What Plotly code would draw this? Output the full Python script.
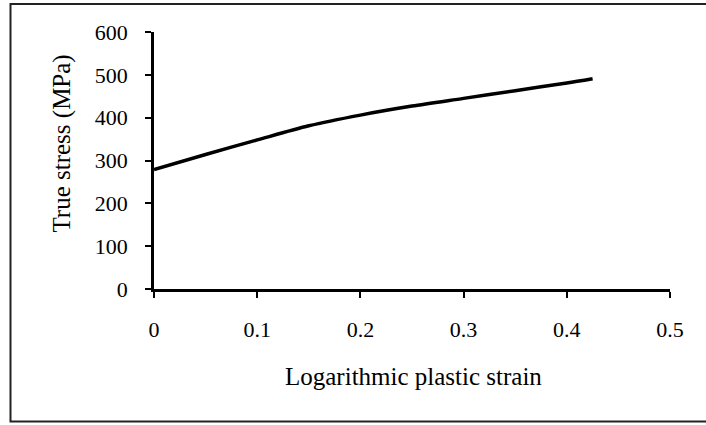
import plotly.graph_objects as go

# Flow curve: logarithmic plastic strain vs true stress (MPa)
strain = [0.0, 0.05, 0.10, 0.15, 0.20, 0.25, 0.30, 0.35, 0.40, 0.425]
stress = [279, 314, 348, 381, 406, 427, 445, 463, 481, 491]

x_ticks = [0, 0.1, 0.2, 0.3, 0.4, 0.5]
x_tick_text = ["0", "0.1", "0.2", "0.3", "0.4", "0.5"]
y_ticks = [0, 100, 200, 300, 400, 500, 600]

W, H = 706, 425
L, R, T, B = 154, 36, 31.5, 135.5
pw, ph = W - L - R, H - T - B


def px_to_paper(px, py):
    return (px - L) / pw, (H - B - py) / ph


font_family = "Liberation Serif, Times New Roman, serif"

fig = go.Figure()
fig.add_trace(go.Scatter(
    x=strain, y=stress, mode="lines",
    line=dict(color="black", width=3.5, shape="spline", smoothing=0.8),
    showlegend=False, hoverinfo="skip",
))

axis_common = dict(
    showgrid=False, zeroline=False, showline=True, linecolor="black",
    linewidth=2.5, ticks="outside", ticklen=6, tickwidth=2,
    tickcolor="black", tickfont=dict(family=font_family, size=22, color="black"),
)
fig.update_xaxes(range=[0, 0.5], tickvals=x_ticks, ticktext=x_tick_text,
                 ticklabelstandoff=13, **axis_common)
fig.update_yaxes(range=[0, 600], tickvals=y_ticks, ticklabelstandoff=13,
                 **axis_common)

# Axis titles
tx, ty = px_to_paper(413, 377)
fig.add_annotation(text="Logarithmic plastic strain", xref="paper", yref="paper",
                   x=tx, y=ty, xanchor="center", yanchor="middle", showarrow=False,
                   font=dict(family=font_family, size=25, color="black"))
tx, ty = px_to_paper(62, 143.5)
fig.add_annotation(text="True stress (MPa)", xref="paper", yref="paper",
                   x=tx, y=ty, xanchor="center", yanchor="middle", showarrow=False,
                   textangle=-90,
                   font=dict(family=font_family, size=25, color="black"))

# Chart-area border (right edge runs past the page)
x0, y0 = px_to_paper(10.5, 422.5)
x1, y1 = px_to_paper(710, 3.5)
fig.add_shape(type="rect", xref="paper", yref="paper", x0=x0, y0=y0, x1=x1, y1=y1,
              line=dict(color="#222222", width=2), layer="below")

fig.update_layout(
    width=W, height=H, autosize=False,
    margin=dict(l=L, r=R, t=T, b=B, pad=0),
    paper_bgcolor="white", plot_bgcolor="white",
)

fig.write_html("out.html")
